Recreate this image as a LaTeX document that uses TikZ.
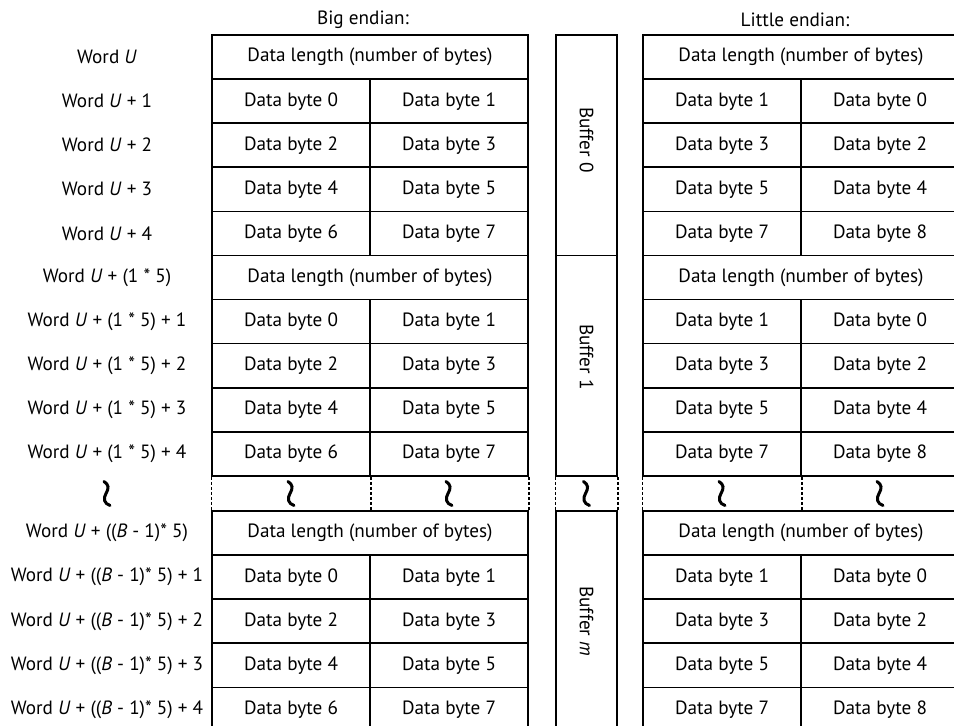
\documentclass[tikz,border=0pt]{standalone}
\usepackage{fontspec}
\setmainfont{PT Sans}
\usetikzlibrary{positioning}

\begin{document}
\begin{tikzpicture}[
    x=0.5pt, y=-0.5pt,
    every node/.style={font=\fontsize{9.6}{11}\selectfont, inner sep=0pt},
    cell/.style={draw, line width=0.8pt, minimum width=79pt, minimum height=22.05pt},
    lencell/.style={cell, minimum width=158pt},
    bufbox/.style={draw, line width=0.8pt, minimum width=30.5pt, minimum height=110.25pt},
    gapline/.style={line width=0.7pt, dash pattern=on 1.5pt off 1pt},
    squig/.style={line width=1.5pt, line cap=round},
    squiggle/.pic={\draw[squig] (-3,-12) .. controls (2,-9) and (2,-5) .. (-1,0) .. controls (-4,5) and (-3,10) .. (3,12);}
]
\useasboundingbox (0,0) rectangle (954,726);
\clip (0,0) rectangle (954,726);

\node (hdr-big) at (363,20) {Big endian:};
\node (hdr-little) at (795,20) {Little endian:};

\foreach \b/\top/\base in {0/35/{Word \textit{U}}, 1/255.5/{Word \textit{U} + (1 * 5)}, 2/511/{Word \textit{U} + ((\textit{B} - 1)* 5)}} {
  \node[bufbox] (buf-\b) at (586.5,\top+110.25) {};
  \node (word-\b-0) at (107,\top+22.05) {\base};
  \node[lencell] (len-big-\b) at (370,\top+22.05) {Data length (number of bytes)};
  \node[lencell] (len-little-\b) at (801,\top+22.05) {Data length (number of bytes)};
  \foreach \j/\bl/\br/\ll/\lr in {1/0/1/1/0, 2/2/3/3/2, 3/4/5/5/4, 4/6/7/7/8} {
    \node (word-\b-\j) at (107,\top+22.05+44.1*\j) {\base{} + \j};
    \node[cell] (big-\b-\j-l) at (291,\top+22.05+44.1*\j) {Data byte \bl};
    \node[cell] (big-\b-\j-r) at (449,\top+22.05+44.1*\j) {Data byte \br};
    \node[cell] (little-\b-\j-l) at (722,\top+22.05+44.1*\j) {Data byte \ll};
    \node[cell] (little-\b-\j-r) at (880,\top+22.05+44.1*\j) {Data byte \lr};
  }
}
\node[rotate=-90] (buf-name-0) at ([yshift=2.75pt]buf-0.center) {Buffer 0};
\node[rotate=-90] (buf-name-1) at ([yshift=4.5pt]buf-1.center) {Buffer 1};
\node[rotate=-90] (buf-name-2) at (buf-2.center) {Buffer \textit{m}};

\draw[gapline] (big-1-4-l.south west) -- (len-big-2.north west);
\draw[gapline] (big-1-4-l.south east) -- (big-1-4-l.south east |- len-big-2.north);
\draw[gapline] (big-1-4-r.south east) -- (len-big-2.north east);
\draw[gapline] (buf-1.south west) -- (buf-2.north west);
\draw[gapline] (buf-1.south east) -- (buf-2.north east);
\draw[gapline] (little-1-4-l.south west) -- (len-little-2.north west);
\draw[gapline] (little-1-4-l.south east) -- (little-1-4-l.south east |- len-little-2.north);

\foreach \x in {107,291,449,586.5,722,880}
  \pic at (\x,493.5) {squiggle};
\end{tikzpicture}
\end{document}
